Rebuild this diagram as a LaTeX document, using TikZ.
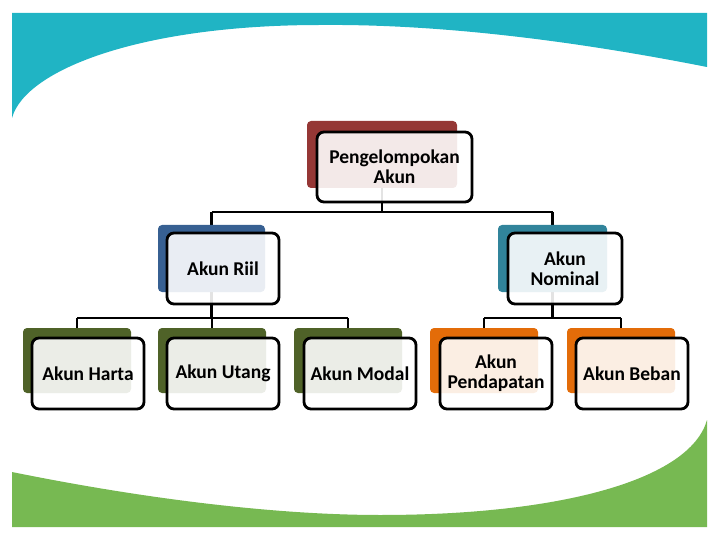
\documentclass[tikz,border=0pt]{standalone}
\usepackage{fontspec}
\setmainfont{Carlito}
\definecolor{bandteal}{RGB}{32,180,196}
\definecolor{bandgreen}{RGB}{119,185,82}
\definecolor{cred}{RGB}{149,55,53}
\definecolor{cblue}{RGB}{55,96,146}
\definecolor{cteal}{RGB}{49,132,155}
\definecolor{colive}{RGB}{79,98,40}
\definecolor{corange}{RGB}{227,108,9}
\tikzset{
  backbox/.style={rounded corners=4pt, inner sep=0pt, outer sep=0pt, draw=none},
  frontbox/.style={draw=black, line width=2.8pt, rounded corners=7pt, fill=white,
    fill opacity=0.89, text opacity=1, inner sep=0pt, outer sep=0pt, align=center,
    font=\fontsize{19.5}{20}\selectfont\bfseries},
  conn/.style={line width=2.8pt, draw=black},
}
\begin{document}
\begin{tikzpicture}[x=1pt,y=-1pt]
\useasboundingbox (0,0) rectangle (720,540);
% decorative bands
\fill[bandteal] (12,13) -- (707,13) -- (707,67)
  .. controls (560,38) and (430,24) .. (320,25)
  .. controls (140,25) and (25,70) .. (12,118) -- cycle;
\fill[bandgreen] (12,472) .. controls (150,500) and (280,515) .. (380,515)
  .. controls (560,515) and (690,480) .. (707,420) -- (707,527) -- (12,527) -- cycle;
% anchor coordinates for connectors
\coordinate (topc) at (382,154.5);
\coordinate (riilc) at (211.5,258.5);
\coordinate (nomc) at (552.5,258.5);
\coordinate (hartac) at (77,360.5);
\coordinate (utangc) at (212,360.5);
\coordinate (modalc) at (348,360.5);
\coordinate (pendc) at (484,360.5);
\coordinate (bebanc) at (621,360.5);
% connectors
\draw[conn] (topc) -- ++(0,57.5) coordinate (tbar);
\draw[conn] (riilc |- tbar) -- (nomc |- tbar);
\draw[conn] (riilc |- tbar) -- (riilc);
\draw[conn] (nomc |- tbar) -- (nomc);
\draw[conn] (riilc) -- ++(0,59.5) coordinate (lbar);
\draw[conn] (hartac |- lbar) -- (modalc |- lbar);
\draw[conn] (hartac |- lbar) -- (hartac);
\draw[conn] (utangc |- lbar) -- (utangc);
\draw[conn] (modalc |- lbar) -- (modalc);
\draw[conn] (nomc) -- ++(0,59.5) coordinate (rbar);
\draw[conn] (pendc |- rbar) -- (bebanc |- rbar);
\draw[conn] (pendc |- rbar) -- (pendc);
\draw[conn] (bebanc |- rbar) -- (bebanc);
% back rectangles
\node[backbox, fill=cred, minimum width=150pt, minimum height=67pt] (topb) at (topc) {};
\node[backbox, fill=cblue, minimum width=107pt, minimum height=67pt] (riilb) at (riilc) {};
\node[backbox, fill=cteal, minimum width=109pt, minimum height=67pt] (nomb) at (nomc) {};
\node[backbox, fill=colive, minimum width=108pt, minimum height=65pt] (hartab) at (hartac) {};
\node[backbox, fill=colive, minimum width=108pt, minimum height=65pt] (utangb) at (utangc) {};
\node[backbox, fill=colive, minimum width=108pt, minimum height=65pt] (modalb) at (modalc) {};
\node[backbox, fill=corange, minimum width=108pt, minimum height=65pt] (pendb) at (pendc) {};
\node[backbox, fill=corange, minimum width=108pt, minimum height=65pt] (bebanb) at (bebanc) {};
% front boxes
\node[frontbox, minimum width=155pt, minimum height=70pt] (topf) at (394.5,167) {Pengelompokan\\Akun};
\node[frontbox, minimum width=112pt, minimum height=71pt] (riilf) at (223,268.5) {Akun Riil};
\node[frontbox, minimum width=114pt, minimum height=71pt] (nomf) at (565,268.5) {Akun\\Nominal};
\node[frontbox, minimum width=112pt, minimum height=71pt] (hartaf) at (88,373.5) {Akun Harta};
\node[frontbox, minimum width=112pt, minimum height=71pt] (utangf) at (223,373.5) {Akun Utang};
\node[frontbox, minimum width=112pt, minimum height=71pt] (modalf) at (360,373.5) {Akun Modal};
\node[frontbox, minimum width=112pt, minimum height=71pt] (pendf) at (496,373.5) {Akun\\Pendapatan};
\node[frontbox, minimum width=112pt, minimum height=71pt] (bebanf) at (632,373.5) {Akun Beban};
\end{tikzpicture}
\end{document}
